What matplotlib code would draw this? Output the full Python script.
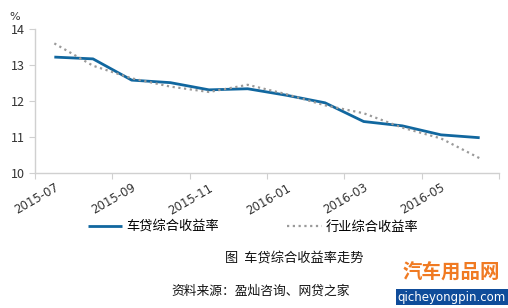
import matplotlib
matplotlib.use("Agg")
import matplotlib.pyplot as plt

plt.rcParams['font.family'] = ['Noto Sans CJK SC', 'DejaVu Sans']

months = ["2015-07", "2015-08", "2015-09", "2015-10", "2015-11", "2015-12",
          "2016-01", "2016-02", "2016-03", "2016-04", "2016-05", "2016-06"]
car_loan = [13.22, 13.17, 12.58, 12.51, 12.31, 12.34, 12.16, 11.95, 11.43, 11.31, 11.06, 10.98]
industry = [13.60, 12.98, 12.63, 12.40, 12.25, 12.45, 12.19, 11.88, 11.66, 11.26, 10.96, 10.41]
series_names = ["车贷综合收益率", "行业综合收益率"]
y_ticks = [10, 11, 12, 13, 14]
title = "图  车贷综合收益率走势"
source = "资料来源：盈灿咨询、网贷之家"

W, H = 508, 308
fig = plt.figure(figsize=(W / 100, H / 100), dpi=100)
ax = fig.add_axes([35 / W, 1 - 173 / H, (499 - 35) / W, (173 - 29) / H])

x = [i + 0.5 for i in range(len(months))]
l1, = ax.plot(x, car_loan, color="#11679F", lw=2.0, solid_capstyle="butt")
l2, = ax.plot(x, industry, color="#9a9a9a", lw=1.6, linestyle=(0, (1, 1.6)))

ax.set_xlim(0, len(months))
ax.set_ylim(10, 14)
ax.set_yticks(y_ticks)
ax.set_yticklabels([str(v) for v in y_ticks], fontsize=9, color="#333333")
ax.set_xticks(range(0, len(months) + 1, 2))
ax.set_xticklabels([])
ax.set_xticks([i + 0.5 for i in range(0, len(months), 2)], minor=True)
ax.set_xticklabels(months[::2], minor=True, rotation=30, ha="right", va="top",
                   rotation_mode="anchor", fontsize=8.5, color="#333333",
                   family=["DejaVu Sans"])
ax.tick_params(axis="x", which="major", length=4, color="#d0d0d0", direction="out")
ax.tick_params(axis="x", which="minor", length=0, pad=6)
ax.tick_params(axis="y", length=4, color="#d0d0d0", direction="out", pad=3)
for s in ["top", "right"]:
    ax.spines[s].set_visible(False)
for s in ["left", "bottom"]:
    ax.spines[s].set_color("#d0d0d0")
    ax.spines[s].set_linewidth(1.0)

fig.text(15 / W, 1 - 17 / H, "%", fontsize=8, ha="center", va="center", color="#333333",
         family=["DejaVu Sans"])

leg = fig.legend([l1, l2], series_names, loc="center", bbox_to_anchor=(253 / W, 1 - 227 / H),
                 ncol=2, frameon=False, fontsize=9.5, handlelength=2.6, columnspacing=5.2,
                 handletextpad=0.3, borderpad=0)

fig.text(294 / W, 1 - 259 / H, title, fontsize=9.5, ha="center", va="center", color="#111111")
fig.text(261 / W, 1 - 291 / H, source, fontsize=9.2, ha="center", va="center", color="#111111")

# watermark
fig.text(451 / W, 1 - 273 / H, "汽车用品网", fontsize=14, fontweight="bold", ha="center",
         va="center", color="#F07A22")
fig.text(452 / W, 1 - 297 / H, "qicheyongpin.com", fontsize=8.5, ha="center", va="center",
         color="white", family=["DejaVu Sans"],
         bbox=dict(boxstyle="square,pad=0.15", fc="#0F4C9A", ec="none"))

fig.savefig("out.png", dpi=100, facecolor="white")
